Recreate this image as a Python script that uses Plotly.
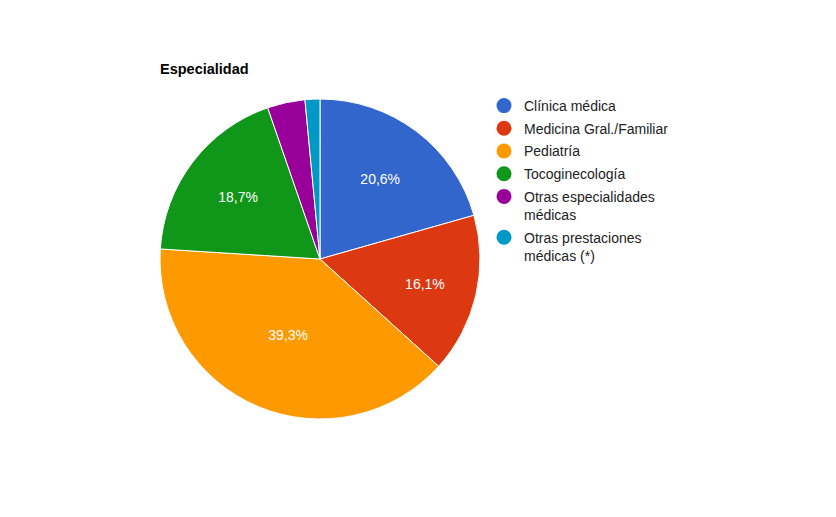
import plotly.graph_objects as go

# porcentajes por especialidad
especialidades = ["Clínica médica", "Medicina Gral./Familiar", "Pediatría",
                  "Tocoginecología", "Otras especialidades médicas",
                  "Otras prestaciones médicas (*)"]
etiquetas_leyenda = ["Clínica médica", "Medicina Gral./Familiar", "Pediatría",
                     "Tocoginecología", "Otras especialidades<br>médicas",
                     "Otras prestaciones<br>médicas (*)"]
porcentajes = [20.6, 16.1, 39.3, 18.7, 3.8, 1.5]
colores = ["#3366cc", "#dc3912", "#ff9900", "#109618", "#990099", "#0099c6"]
mostrar_texto = [True, True, True, True, False, False]

W, H = 836, 517
# la pagina agrega 8px de margen arriba/izquierda
OX, OY = 8, 8

def px_x(v):
    return (v - OX) / W

def px_y(v):
    return 1 - (v - OY) / H

fig = go.Figure()
fig.add_trace(go.Pie(
    labels=especialidades, values=porcentajes, sort=False,
    direction="clockwise", rotation=0,
    marker=dict(colors=colores, line=dict(color="white", width=1)),
    texttemplate=["%{percent:.1%}" if m else "" for m in mostrar_texto],
    textposition="inside", insidetextorientation="horizontal",
    textfont=dict(color="white", size=14, family="Liberation Sans, Arial"),
    hoverinfo="label+percent", showlegend=False,
    domain=dict(x=[px_x(160), px_x(480)], y=[px_y(419), px_y(99)]),
))

# leyenda con marcadores circulares
for i, (nombre, color) in enumerate(zip(etiquetas_leyenda, colores)):
    fig.add_trace(go.Scatter(
        x=[None], y=[None], mode="markers", name=nombre,
        legendgroup=str(i),
        marker=dict(color=color, size=15, symbol="circle"),
    ))

fig.update_layout(
    width=W, height=H,
    margin=dict(l=0, r=0, t=0, b=0),
    paper_bgcolor="white", plot_bgcolor="white",
    separators=",.",
    font=dict(family="Liberation Sans, Arial", size=14, color="#222222"),
    title=dict(text="<b>Especialidad</b>", x=px_x(160), xanchor="left",
               y=px_y(69), yanchor="middle",
               font=dict(size=14.5, color="black", family="Liberation Sans, Arial")),
    xaxis=dict(visible=False), yaxis=dict(visible=False),
    legend=dict(x=px_x(484), y=px_y(90), xanchor="left", yanchor="top",
                tracegroupgap=1.5, valign="top",
                font=dict(size=14, color="#222222"),
                bgcolor="rgba(0,0,0,0)"),
)

fig.write_html("out.html")
